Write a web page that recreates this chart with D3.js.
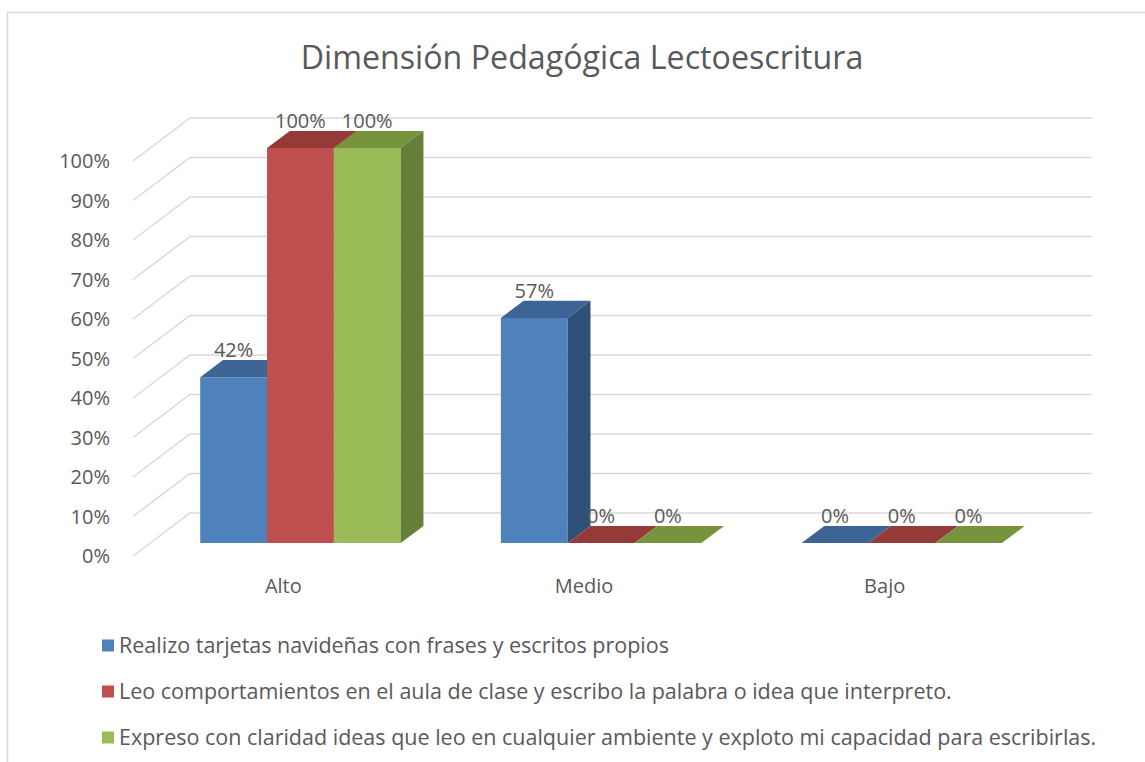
<!DOCTYPE html>
<html>
<head>
<meta charset="utf-8">
<script src="https://cdn.jsdelivr.net/npm/d3@7"></script>
<style>
  body { margin: 0; background: #fff; }
  text { font-family: "Open Sans", sans-serif; fill: #595959; }
</style>
</head>
<body>
<script>
// datos del grafico
var categories = ["Alto", "Medio", "Bajo"];
var seriesNames = [
  "Realizo tarjetas navideñas con frases y escritos propios",
  "Leo comportamientos en el aula de clase y escribo la palabra o idea que interpreto.",
  "Expreso con claridad ideas que leo en cualquier ambiente y exploto mi capacidad para escribirlas."
];
var serieTarjetas = [0.42, 0.57, 0];
var serieLeo = [1, 0, 0];
var serieExpreso = [1, 0, 0];
var yTicks = [0, 0.1, 0.2, 0.3, 0.4, 0.5, 0.6, 0.7, 0.8, 0.9, 1];

var frontColors = ["#4f81bd", "#c0504d", "#9bbb59"];
var topColors = ["#3c6494", "#943a38", "#77933c"];
var sideColors = ["#2f5178", "#7a2e2c", "#667e37"];

var width = 1145;
var height = 762;
var DX = 57, DY = 43;      // profundidad del efecto 3d
var zFront = 0.3, zBack = 0.7;

var svg = d3.select("body").append("svg")
  .attr("width", width)
  .attr("height", height);

svg.append("rect")
  .attr("x", 7.5).attr("y", 12.5)
  .attr("width", 1200).attr("height", 800)
  .attr("fill", "#fff")
  .attr("stroke", "#d9d9d9")
  .attr("stroke-width", 1.5);

var x0 = d3.scaleBand().domain(categories).range([133, 1035]);
var x1 = d3.scaleBand().domain([0, 1, 2]).range([0, x0.bandwidth()]).paddingOuter(0.75);
var y = d3.scaleLinear().domain([0, 1]).range([556, 161]);

var pt = function(x, v, z) {
  return [x + z * DX, y(v) - z * DY];
};
var poly = function(points) {
  return points.map(function(p) { return p.join(","); }).join(" ");
};

// titulo
svg.append("text")
  .attr("x", 582).attr("y", 69)
  .attr("text-anchor", "middle")
  .style("font-size", "32.2px")
  .text("Dimensión Pedagógica Lectoescritura");

// lineas de division (pared lateral y fondo)
svg.selectAll(".grid").data(yTicks).enter().append("polyline")
  .attr("class", "grid")
  .attr("points", function(v) {
    return poly([pt(133, v, 0), pt(133, v, 1), pt(1035, v, 1)]);
  })
  .attr("fill", "none")
  .attr("stroke", "#d9d9d9")
  .attr("stroke-width", 1.5);

// eje y
svg.selectAll(".ylab").data(yTicks).enter().append("text")
  .attr("class", "ylab")
  .attr("x", 110)
  .attr("y", function(v) { return y(v); })
  .attr("dy", "0.36em")
  .attr("text-anchor", "end")
  .style("font-size", "20px")
  .text(d3.format(".0%"));

// barras
var series = [serieTarjetas, serieLeo, serieExpreso];
var bars = [];
categories.forEach(function(c, i) {
  series.forEach(function(s, j) {
    bars.push({cat: c, s: j, v: s[i]});
  });
});

var g = svg.selectAll(".bar").data(bars).enter().append("g").attr("class", "bar");

g.each(function(d) {
  var xl = x0(d.cat) + x1(d.s);
  var xr = xl + x1.bandwidth();
  var el = d3.select(this);
  el.append("polygon")
    .attr("points", poly([pt(xl, 0, zFront), pt(xr, 0, zFront), pt(xr, d.v, zFront), pt(xl, d.v, zFront)]))
    .attr("fill", frontColors[d.s]);
  el.append("polygon")
    .attr("points", poly([pt(xl, d.v, zFront), pt(xr, d.v, zFront), pt(xr, d.v, zBack), pt(xl, d.v, zBack)]))
    .attr("fill", topColors[d.s]);
  el.append("polygon")
    .attr("points", poly([pt(xr, 0, zFront), pt(xr, d.v, zFront), pt(xr, d.v, zBack), pt(xr, 0, zBack)]))
    .attr("fill", sideColors[d.s]);
});

// etiquetas de datos
svg.selectAll(".dlab").data(bars).enter().append("text")
  .attr("class", "dlab")
  .attr("x", function(d) { return pt(x0(d.cat) + x1(d.s) + x1.bandwidth() / 2, d.v, zFront)[0]; })
  .attr("y", function(d) { return pt(0, d.v, zBack)[1] - 3; })
  .attr("text-anchor", "middle")
  .style("font-size", "20px")
  .text(function(d) { return d3.format(".0%")(d.v); });

// eje x
svg.selectAll(".xlab").data(categories).enter().append("text")
  .attr("class", "xlab")
  .attr("x", function(c) { return x0(c) + x0.bandwidth() / 2; })
  .attr("y", y(0) + 37)
  .attr("text-anchor", "middle")
  .style("font-size", "20px")
  .text(function(c) { return c; });

// leyenda
var leg = svg.selectAll(".leg").data(seriesNames).enter().append("g")
  .attr("class", "leg")
  .attr("transform", function(d, i) { return "translate(102," + (645.5 + i * 46) + ")"; });
leg.append("rect")
  .attr("x", 0).attr("y", -6)
  .attr("width", 12).attr("height", 12)
  .attr("fill", function(d, i) { return frontColors[i]; });
leg.append("text")
  .attr("x", 17).attr("dy", "0.36em")
  .style("font-size", "21.5px")
  .text(function(d) { return d; });
</script>
</body>
</html>
